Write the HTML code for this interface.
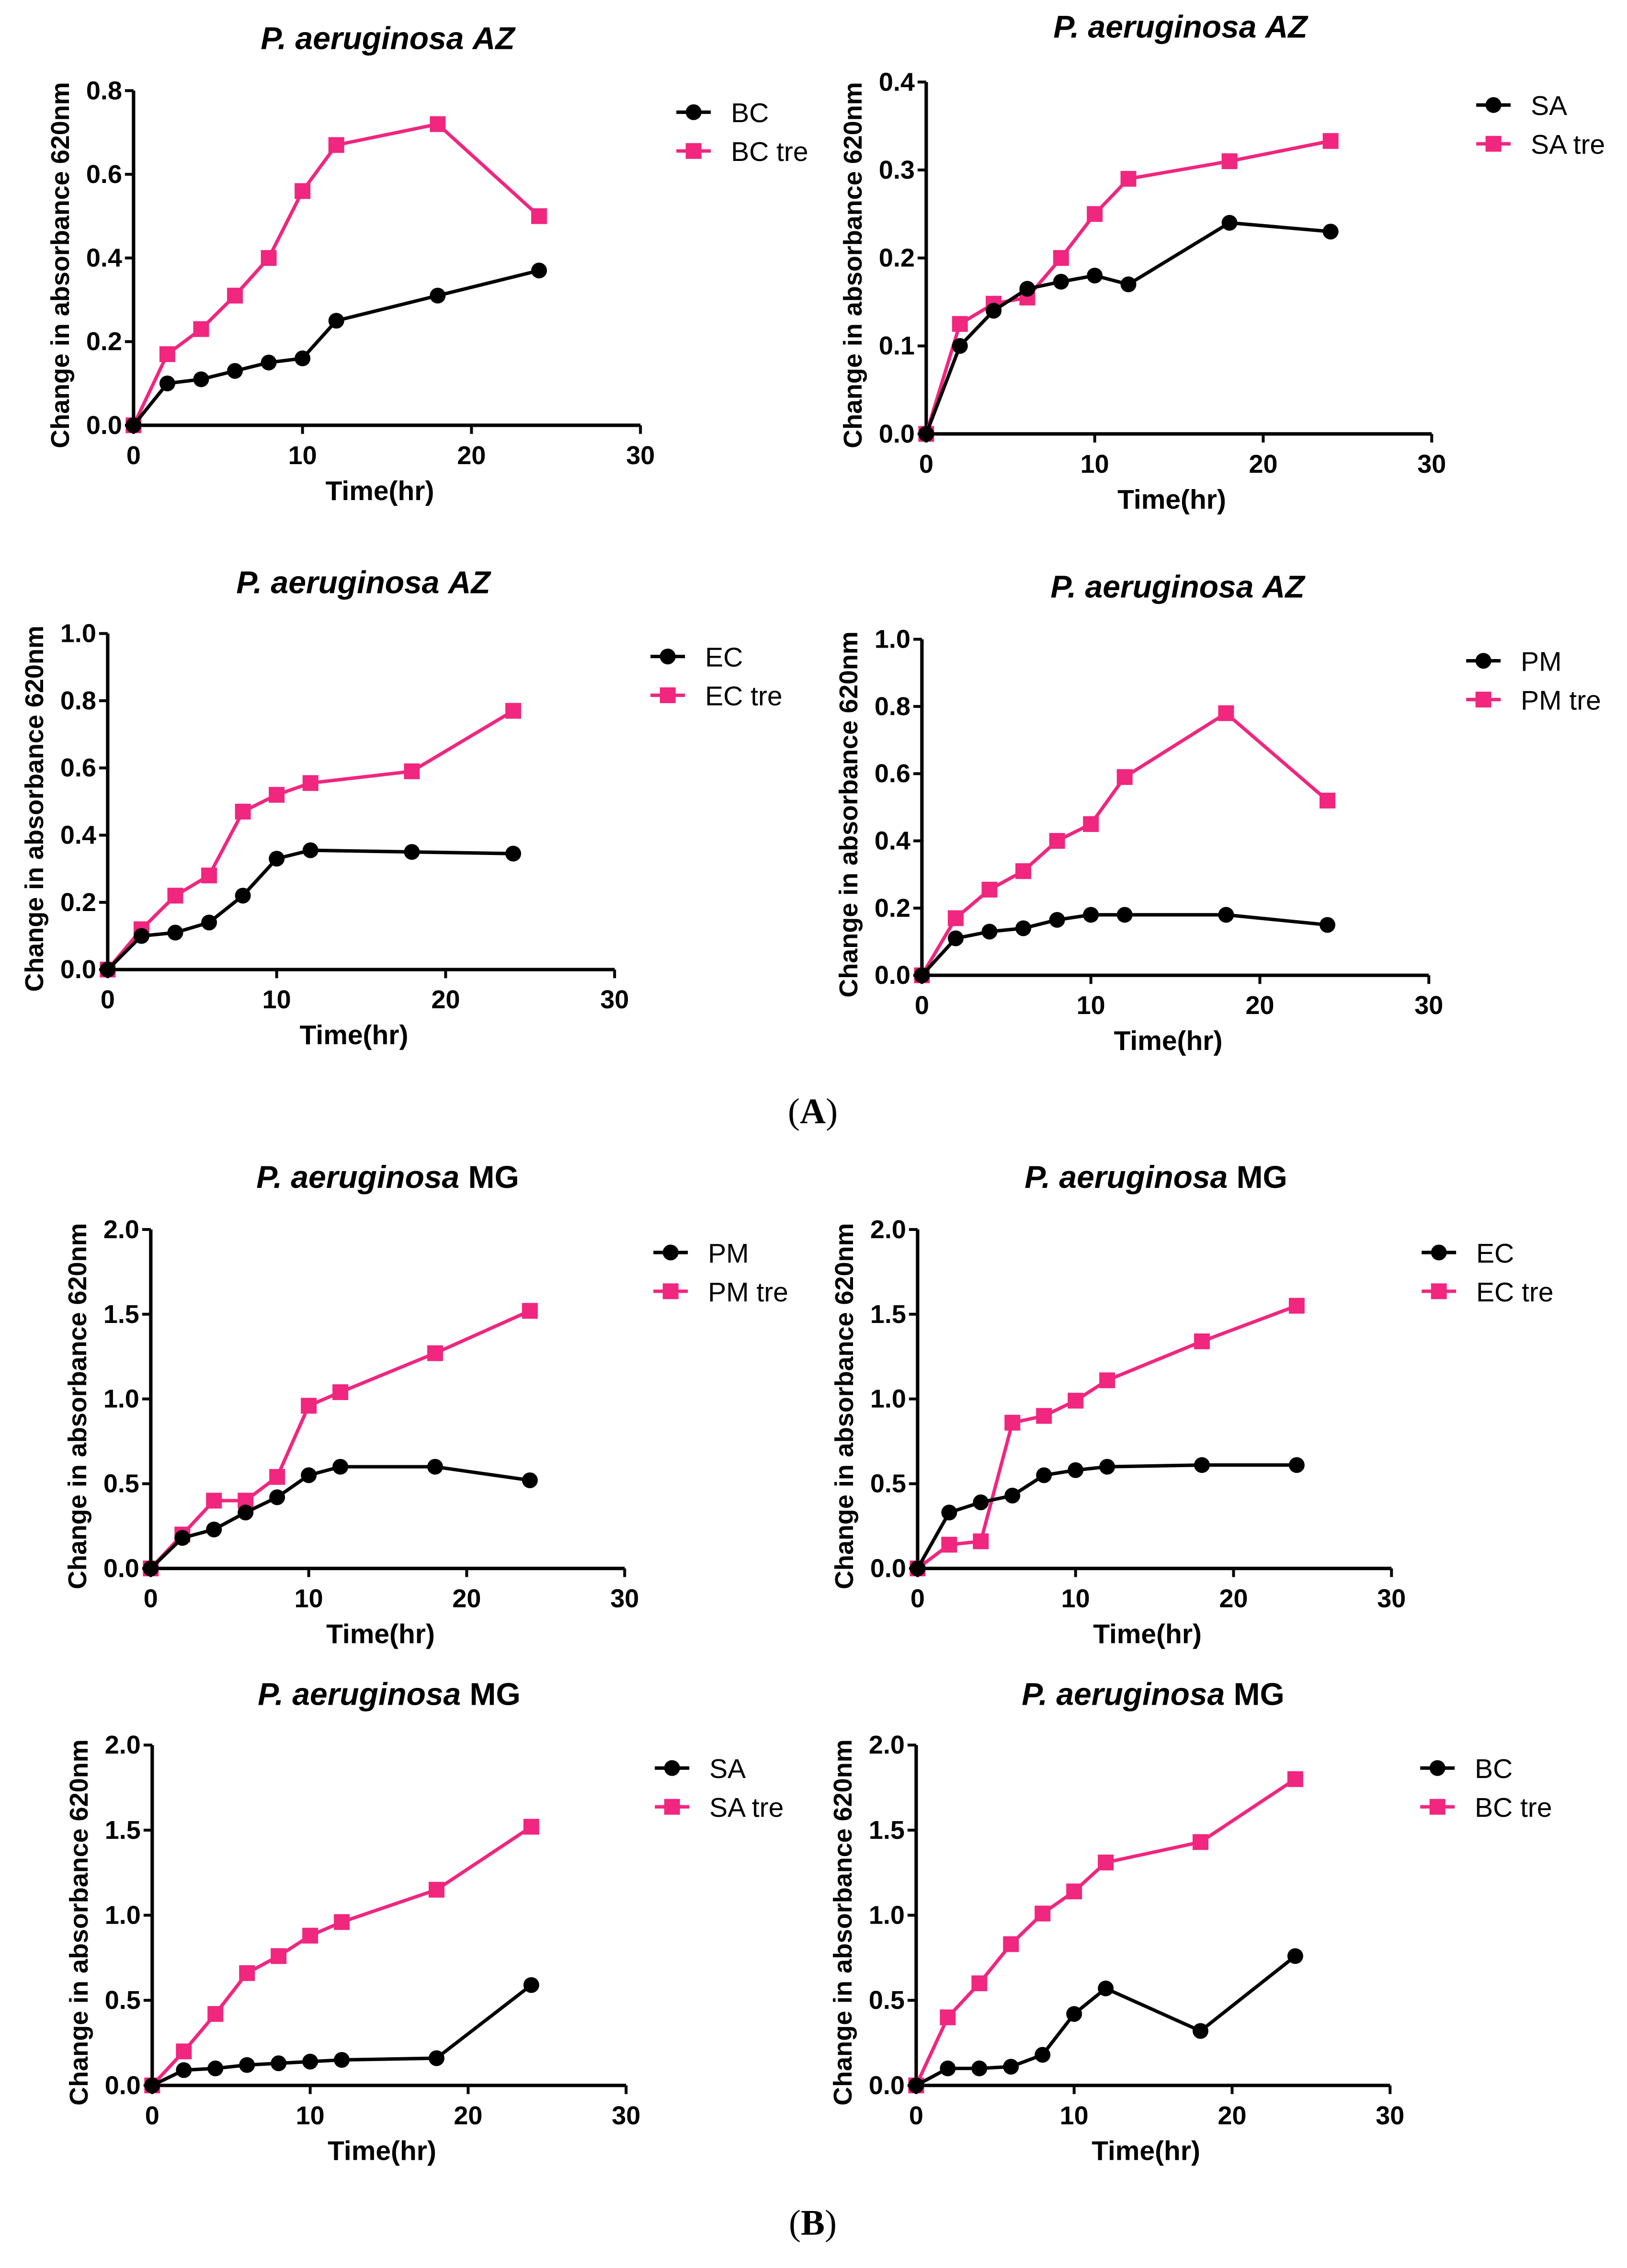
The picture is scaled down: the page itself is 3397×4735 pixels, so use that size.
<!DOCTYPE html>
<html><head><meta charset="utf-8"><style>
html,body{margin:0;padding:0;background:#fff;}
svg{display:block;}
text{font-family:"Liberation Sans Narrow","Liberation Sans",Arial,sans-serif;}
</style></head><body>
<svg id="fig" width="3397" height="4735" viewBox="0 0 1133 1579" xmlns="http://www.w3.org/2000/svg"></svg>
<script>
const times = [0,2,4,6,8,10,12,18,24];
const xTicks = [0,10,20,30];
const c1Ctrl = [0,0.10,0.11,0.13,0.15,0.16,0.25,0.31,0.37];
const c1Tre  = [0,0.17,0.23,0.31,0.40,0.56,0.67,0.72,0.50];
const c2Ctrl = [0,0.10,0.14,0.165,0.173,0.18,0.17,0.24,0.23];
const c2Tre  = [0,0.125,0.148,0.155,0.20,0.25,0.29,0.31,0.333];
const c3Ctrl = [0,0.10,0.11,0.14,0.22,0.33,0.355,0.35,0.345];
const c3Tre  = [0,0.12,0.22,0.28,0.47,0.52,0.555,0.59,0.77];
const c4Ctrl = [0,0.11,0.13,0.14,0.165,0.18,0.18,0.18,0.15];
const c4Tre  = [0,0.17,0.255,0.31,0.40,0.45,0.59,0.78,0.52];
const c5Ctrl = [0,0.18,0.23,0.33,0.42,0.55,0.60,0.60,0.52];
const c5Tre  = [0,0.20,0.40,0.40,0.54,0.96,1.04,1.27,1.52];
const c6Ctrl = [0,0.33,0.39,0.43,0.55,0.58,0.60,0.61,0.61];
const c6Tre  = [0,0.14,0.16,0.86,0.90,0.99,1.11,1.34,1.55];
const c7Ctrl = [0,0.09,0.10,0.12,0.13,0.14,0.15,0.16,0.59];
const c7Tre  = [0,0.20,0.42,0.66,0.76,0.88,0.96,1.15,1.52];
const c8Ctrl = [0,0.10,0.10,0.11,0.18,0.42,0.57,0.32,0.76];
const c8Tre  = [0,0.40,0.60,0.83,1.01,1.14,1.31,1.43,1.80];
const yTicksA1 = ["0.0","0.2","0.4","0.6","0.8"];
const yTicksA2 = ["0.0","0.1","0.2","0.3","0.4"];
const yTicksA3 = ["0.0","0.2","0.4","0.6","0.8","1.0"];
const yTicksB  = ["0.0","0.5","1.0","1.5","2.0"];

const charts = [
 {id:'az-bc',strain:'AZ',lab:'BC',ox:93,oy:296,x30:446,ytop:63,ticks:yTicksA1,ctrl:c1Ctrl,tre:c1Tre,lx:483,ly:78,tx:270,ty:26},
 {id:'az-sa',strain:'AZ',lab:'SA',ox:645,oy:302,x30:997,ytop:57,ticks:yTicksA2,ctrl:c2Ctrl,tre:c2Tre,lx:1040,ly:73,tx:822,ty:18},
 {id:'az-ec',strain:'AZ',lab:'EC',ox:75,oy:675,x30:428,ytop:441,ticks:yTicksA3,ctrl:c3Ctrl,tre:c3Tre,lx:465,ly:457,tx:253,ty:405},
 {id:'az-pm',strain:'AZ',lab:'PM',ox:642,oy:679,x30:995,ytop:445,ticks:yTicksA3,ctrl:c4Ctrl,tre:c4Tre,lx:1033,ly:460,tx:820,ty:408},
 {id:'mg-pm',strain:'MG',lab:'PM',ox:105,oy:1092,x30:435,ytop:856,ticks:yTicksB,ctrl:c5Ctrl,tre:c5Tre,lx:467,ly:872,tx:270,ty:819},
 {id:'mg-ec',strain:'MG',lab:'EC',ox:639,oy:1092,x30:969,ytop:856,ticks:yTicksB,ctrl:c6Ctrl,tre:c6Tre,lx:1002,ly:872,tx:805,ty:819},
 {id:'mg-sa',strain:'MG',lab:'SA',ox:106,oy:1452,x30:436,ytop:1215,ticks:yTicksB,ctrl:c7Ctrl,tre:c7Tre,lx:468,ly:1231,tx:271,ty:1179},
 {id:'mg-bc',strain:'MG',lab:'BC',ox:638,oy:1452,x30:968,ytop:1215,ticks:yTicksB,ctrl:c8Ctrl,tre:c8Tre,lx:1001,ly:1231,tx:803,ty:1179}
];
const NS='http://www.w3.org/2000/svg';
const svg=document.getElementById('fig');
function mk(tag,attrs,parent,txt){const e=document.createElementNS(NS,tag);for(const k in attrs)e.setAttribute(k,attrs[k]);if(txt!==undefined)e.textContent=txt;(parent||svg).appendChild(e);return e;}
const PINK='#f0267f';
charts.forEach(c=>{
  const g=mk('g',{});
  
  
  const ymax=parseFloat(c.ticks[c.ticks.length-1]);
  const X=v=>c.ox+(c.x30-c.ox)*v/30;
  const Y=v=>c.oy-(c.oy-c.ytop)*v/ymax;
  const t=mk('text',{x:c.tx,y:c.ty+8,'text-anchor':'middle','font-size':22,'font-weight':'bold'},g);
  
  
  mk('tspan',{'font-style':'italic'},t,'P. aeruginosa ');
  mk('tspan',{'font-style':c.strain==='AZ'?'italic':'normal'},t,c.strain);
  const ax=mk('path',{d:`M${c.ox},${c.ytop}V${c.oy}H${c.x30}`,stroke:'#000','stroke-width':2.4,fill:'none'},g);
  
  
  c.ticks.forEach(tk=>{const v=parseFloat(tk);const y=Y(v);
    mk('line',{x1:c.ox-6,x2:c.ox,y1:y,y2:y,stroke:'#000','stroke-width':2},g);
    const l=mk('text',{x:c.ox-8,y:y+6,'text-anchor':'end','font-size':18,'font-weight':'bold'},g,tk);
    
    
  });
  xTicks.forEach(v=>{const x=X(v);
    mk('line',{x1:x,x2:x,y1:c.oy,y2:c.oy+6,stroke:'#000','stroke-width':2},g);
    const l=mk('text',{x:x,y:c.oy+27,'text-anchor':'middle','font-size':18,'font-weight':'bold'},g,String(v));
    
    
  });
  const xt=mk('text',{x:(c.ox+c.x30)/2-5,y:c.oy+52,'text-anchor':'middle','font-size':19,'font-weight':'bold'},g,'Time(hr)');
  
  
  const yc=(c.oy+c.ytop)/2+5;const yx=c.ox-45;
  const yt=mk('text',{x:yx,y:yc,'text-anchor':'middle','font-size':18,'font-weight':'bold',transform:`rotate(-90 ${yx} ${yc})`},g,'Change in absorbance 620nm');
  
  
  [[c.tre,PINK,'sq','tre'],[c.ctrl,'#000','ci','ctrl']].forEach(([vals,col,m,nm])=>{
    const pts=vals.map((v,i)=>X(times[i])+','+Y(v)).join(' ');
    const pl=mk('polyline',{points:pts,fill:'none',stroke:col,'stroke-width':2.4},g);
    
    
    vals.forEach((v,i)=>{let e;
      if(m==='sq')e=mk('rect',{x:X(times[i])-5.5,y:Y(v)-5.5,width:11,height:11,fill:col},g);
      else e=mk('circle',{cx:X(times[i]),cy:Y(v),r:5.5,fill:col},g);
      
      
    });
  });
  [[c.lab,'#000','ci',0],[c.lab+' tre',PINK,'sq',27]].forEach(([txt,col,m,dy])=>{
    const lg=mk('g',{},g);
    
    
    const y=c.ly+dy;
    mk('line',{x1:c.lx-12,x2:c.lx+12,y1:y,y2:y,stroke:col,'stroke-width':2.4},lg);
    if(m==='sq')mk('rect',{x:c.lx-5.5,y:y-5.5,width:11,height:11,fill:col},lg);
    else mk('circle',{cx:c.lx,cy:y,r:5.5,fill:col},lg);
    mk('text',{x:c.lx+26,y:y+7,'font-size':19},lg,txt);
  });
});
const pa=mk('text',{x:566,y:782,'text-anchor':'middle','font-size':25,style:'font-family:"Liberation Serif",serif'});


mk('tspan',{},pa,'(');mk('tspan',{'font-weight':'bold'},pa,'A');mk('tspan',{},pa,')');
const pb=mk('text',{x:566,y:1556,'text-anchor':'middle','font-size':25,style:'font-family:"Liberation Serif",serif'});


mk('tspan',{},pb,'(');mk('tspan',{'font-weight':'bold'},pb,'B');mk('tspan',{},pb,')');
</script>
</body></html>
